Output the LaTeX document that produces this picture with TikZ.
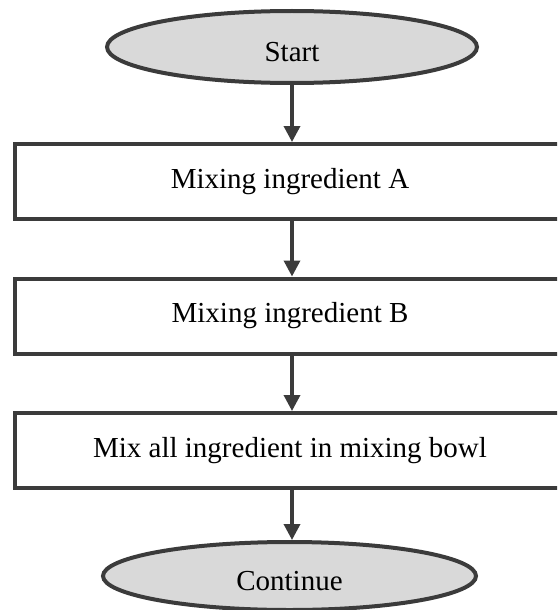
\documentclass[tikz,border=0pt]{standalone}
\usepackage{fontspec}
\setmainfont{Liberation Serif}
\usetikzlibrary{shapes.geometric,arrows.meta}
\definecolor{edgegray}{HTML}{3B3B3B}
\definecolor{termfill}{HTML}{D9D9D9}
\begin{document}
\begin{tikzpicture}[x=1pt,y=-1pt,
  every node/.style={font=\fontsize{29}{34}\selectfont, text=black},
  terminal/.style={ellipse, draw=edgegray, fill=termfill, line width=4pt, inner sep=0pt},
  termtext/.style={inner sep=0pt},
  stepbox/.style={rectangle, draw=edgegray, fill=white, line width=4pt, inner sep=0pt,
    minimum width=551pt, minimum height=75pt},
  flow/.style={draw=edgegray, line width=3.5pt, -{Triangle[length=16pt,width=16pt]}}]
\useasboundingbox (0,0) rectangle (557,610);
\clip (0,0) rectangle (557,610);
% terminals: the label sits a little below the ellipse centre
\node[terminal, minimum width=370pt, minimum height=72pt] (start) at (292,47) {};
\node[termtext] (starttext) at (292,52) {Start};
\node[stepbox] (a) at (290,181.5) {Mixing ingredient A};
\node[stepbox] (b) at (290,316) {Mixing ingredient B};
\node[stepbox] (c) at (290,450.5) {Mix all ingredient in mixing bowl};
\node[terminal, minimum width=373pt, minimum height=68pt] (cont) at (289.5,576) {};
\node[termtext] (conttext) at (289.5,581) {Continue};
\draw[flow] (start.south) -- (start.south |- a.north);
\draw[flow] (a.south -| start.south) -- (start.south |- b.north);
\draw[flow] (b.south -| start.south) -- (start.south |- c.north);
\draw[flow] (c.south -| start.south) -- (start.south |- cont.north);
\end{tikzpicture}
\end{document}
